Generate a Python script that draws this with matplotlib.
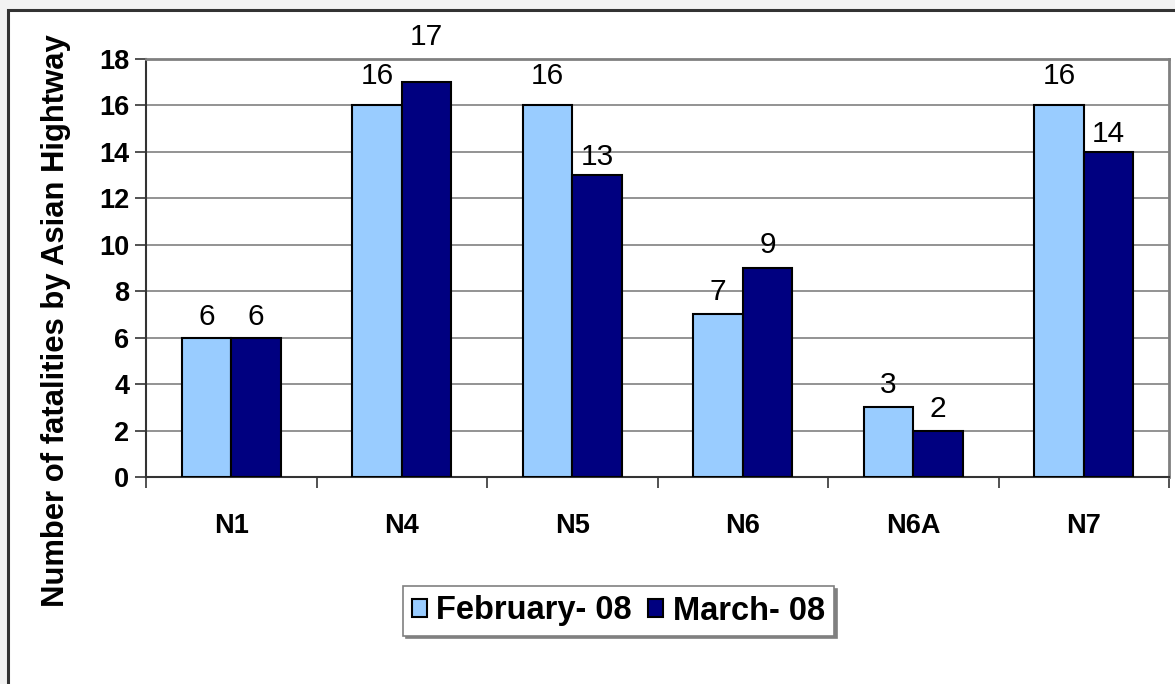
import matplotlib
matplotlib.use("Agg")
import matplotlib.pyplot as plt
from matplotlib.patches import Rectangle
import numpy as np

categories = ["N1", "N4", "N5", "N6", "N6A", "N7"]
series_names = ["February- 08", "March- 08"]
feb_values = [6, 16, 16, 7, 3, 16]
mar_values = [6, 17, 13, 9, 2, 14]
y_ticks = [0, 2, 4, 6, 8, 10, 12, 14, 16, 18]
y_label = "Number of fatalities by Asian Hightway"

# label gaps above bars (pixels) - style
feb_gap = [7, 15, 15, 8, 8, 15]
mar_gap = [7, 31, 4, 9, 8, 4]

plt.rcParams['font.family'] = ['Liberation Sans', 'DejaVu Sans']

W, H = 1175, 684
fig = plt.figure(figsize=(W / 100, H / 100), dpi=100)
fig.patch.set_facecolor("#f2f2f2")

# outer chart frame
frame = Rectangle((8 / W, -0.01), 1.2, 1 - 10 / H + 0.01, transform=fig.transFigure,
                  facecolor="white", edgecolor="#333333", linewidth=2.2, zorder=-5)
fig.patches.append(frame)

ax = fig.add_axes([146 / W, 1 - 477 / H, (1169 - 146) / W, (477 - 59) / H])
ax.set_zorder(2)
ax.set_facecolor("white")

x = np.arange(len(categories))
bw = 0.29
b1 = ax.bar(x - bw / 2, feb_values, bw, color="#99ccff", edgecolor="black", linewidth=1.5,
            label=series_names[0], zorder=3)
b2 = ax.bar(x + bw / 2, mar_values, bw, color="#000080", edgecolor="black", linewidth=1.5,
            label=series_names[1], zorder=3)

for bars, vals, gaps in ((b1, feb_values, feb_gap), (b2, mar_values, mar_gap)):
    for rect, v, g in zip(bars, vals, gaps):
        ax.annotate(str(v), (rect.get_x() + rect.get_width() / 2, v),
                    xytext=(0, g * 0.72), textcoords="offset points",
                    ha="center", va="bottom", fontsize=21.5, color="black")

ax.set_xlim(-0.5, len(categories) - 0.5)
ax.set_ylim(0, 18)
ax.set_yticks(y_ticks)
ax.set_yticklabels([str(t) for t in y_ticks], fontsize=19.5, fontweight="bold")
ax.set_xticks(x)
ax.set_xticklabels(categories, fontsize=19.5, fontweight="bold")
ax.tick_params(axis="x", length=0, pad=26)
ax.set_xticks(np.arange(-0.5, len(categories), 1.0), minor=True)
ax.tick_params(axis="x", which="minor", length=8, width=1.2, color="#333333", direction="out")
ax.tick_params(axis="y", length=8, width=1.2, color="#333333", direction="out", pad=4)

ax.yaxis.grid(True, color="#808080", linewidth=1.2, zorder=0)
ax.set_axisbelow(True)

for s in ("left", "bottom"):
    ax.spines[s].set_color("#333333")
    ax.spines[s].set_linewidth(1.5)
for s in ("top", "right"):
    ax.spines[s].set_color("#808080")
    ax.spines[s].set_linewidth(2)

fig.text(56 / W, 1 - 321 / H, y_label, rotation=90, ha="center", va="center",
         fontsize=22.3, fontweight="bold")

leg = fig.legend(loc="center", bbox_to_anchor=(618.5 / W, 1 - 611 / H), ncol=2,
                 prop={"size": 23.5, "weight": "bold"}, frameon=True, fancybox=False,
                 shadow={"color": "#808080", "alpha": 1}, handlelength=0.45, handleheight=0.45,
                 handletextpad=0.3, columnspacing=0.5, borderpad=0.28, borderaxespad=0)
leg.get_frame().set_edgecolor("#808080")
leg.get_frame().set_linewidth(1.2)
for h in leg.legend_handles:
    h.set_edgecolor("black")
    h.set_linewidth(1.5)

fig.savefig("out.png", dpi=100, facecolor=fig.get_facecolor())
